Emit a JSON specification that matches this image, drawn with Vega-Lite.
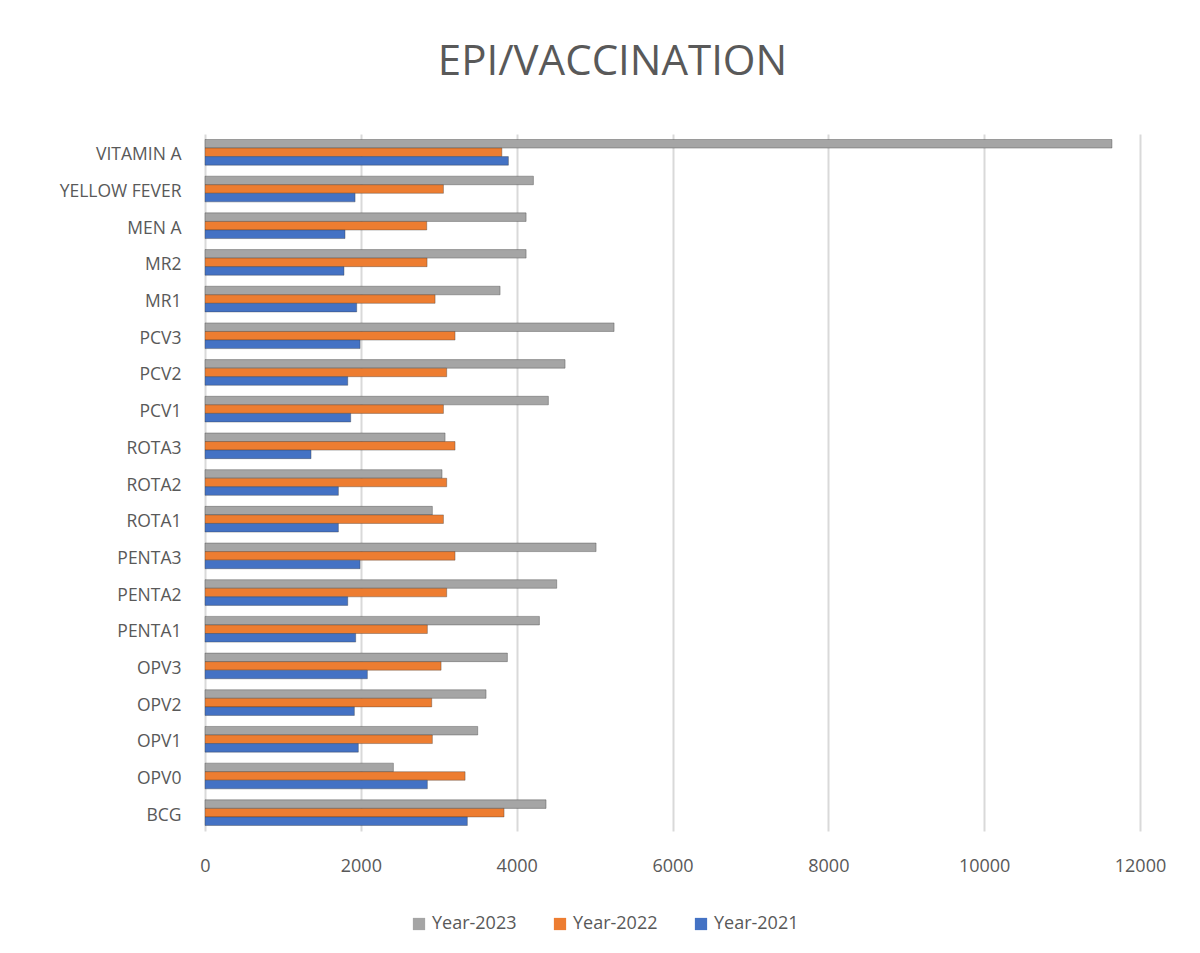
{
  "$schema": "https://vega.github.io/schema/vega-lite/v6.json",
  "width": 935,
  "height": 697,
  "autosize": "none",
  "padding": {"left": 205, "top": 134, "right": 60, "bottom": 122},
  "background": "white",
  "title": {
    "text": "EPI/VACCINATION",
    "anchor": "middle",
    "dx": -60,
    "offset": 50,
    "fontSize": 42,
    "font": "'Open Sans'",
    "fontWeight": "normal",
    "color": "#595959"
  },
  "data": {
    "values": [
      {"vaccine": "VITAMIN A", "year": "Year-2023", "value": 11640},
      {"vaccine": "VITAMIN A", "year": "Year-2022", "value": 3810},
      {"vaccine": "VITAMIN A", "year": "Year-2021", "value": 3894},
      {"vaccine": "YELLOW FEVER", "year": "Year-2023", "value": 4215},
      {"vaccine": "YELLOW FEVER", "year": "Year-2022", "value": 3060},
      {"vaccine": "YELLOW FEVER", "year": "Year-2021", "value": 1926},
      {"vaccine": "MEN A", "year": "Year-2023", "value": 4121},
      {"vaccine": "MEN A", "year": "Year-2022", "value": 2846},
      {"vaccine": "MEN A", "year": "Year-2021", "value": 1797},
      {"vaccine": "MR2", "year": "Year-2023", "value": 4121},
      {"vaccine": "MR2", "year": "Year-2022", "value": 2850},
      {"vaccine": "MR2", "year": "Year-2021", "value": 1784},
      {"vaccine": "MR1", "year": "Year-2023", "value": 3787},
      {"vaccine": "MR1", "year": "Year-2022", "value": 2953},
      {"vaccine": "MR1", "year": "Year-2021", "value": 1947},
      {"vaccine": "PCV3", "year": "Year-2023", "value": 5250},
      {"vaccine": "PCV3", "year": "Year-2022", "value": 3209},
      {"vaccine": "PCV3", "year": "Year-2021", "value": 1990},
      {"vaccine": "PCV2", "year": "Year-2023", "value": 4621},
      {"vaccine": "PCV2", "year": "Year-2022", "value": 3102},
      {"vaccine": "PCV2", "year": "Year-2021", "value": 1832},
      {"vaccine": "PCV1", "year": "Year-2023", "value": 4407},
      {"vaccine": "PCV1", "year": "Year-2022", "value": 3060},
      {"vaccine": "PCV1", "year": "Year-2021", "value": 1870},
      {"vaccine": "ROTA3", "year": "Year-2023", "value": 3081},
      {"vaccine": "ROTA3", "year": "Year-2022", "value": 3209},
      {"vaccine": "ROTA3", "year": "Year-2021", "value": 1361},
      {"vaccine": "ROTA2", "year": "Year-2023", "value": 3042},
      {"vaccine": "ROTA2", "year": "Year-2022", "value": 3102},
      {"vaccine": "ROTA2", "year": "Year-2021", "value": 1712},
      {"vaccine": "ROTA1", "year": "Year-2023", "value": 2918},
      {"vaccine": "ROTA1", "year": "Year-2022", "value": 3060},
      {"vaccine": "ROTA1", "year": "Year-2021", "value": 1712},
      {"vaccine": "PENTA3", "year": "Year-2023", "value": 5019},
      {"vaccine": "PENTA3", "year": "Year-2022", "value": 3209},
      {"vaccine": "PENTA3", "year": "Year-2021", "value": 1990},
      {"vaccine": "PENTA2", "year": "Year-2023", "value": 4514},
      {"vaccine": "PENTA2", "year": "Year-2022", "value": 3102},
      {"vaccine": "PENTA2", "year": "Year-2021", "value": 1832},
      {"vaccine": "PENTA1", "year": "Year-2023", "value": 4292},
      {"vaccine": "PENTA1", "year": "Year-2022", "value": 2854},
      {"vaccine": "PENTA1", "year": "Year-2021", "value": 1934},
      {"vaccine": "OPV3", "year": "Year-2023", "value": 3881},
      {"vaccine": "OPV3", "year": "Year-2022", "value": 3030},
      {"vaccine": "OPV3", "year": "Year-2021", "value": 2084},
      {"vaccine": "OPV2", "year": "Year-2023", "value": 3607},
      {"vaccine": "OPV2", "year": "Year-2022", "value": 2910},
      {"vaccine": "OPV2", "year": "Year-2021", "value": 1917},
      {"vaccine": "OPV1", "year": "Year-2023", "value": 3500},
      {"vaccine": "OPV1", "year": "Year-2022", "value": 2918},
      {"vaccine": "OPV1", "year": "Year-2021", "value": 1968},
      {"vaccine": "OPV0", "year": "Year-2023", "value": 2418},
      {"vaccine": "OPV0", "year": "Year-2022", "value": 3338},
      {"vaccine": "OPV0", "year": "Year-2021", "value": 2854},
      {"vaccine": "BCG", "year": "Year-2023", "value": 4377},
      {"vaccine": "BCG", "year": "Year-2022", "value": 3838},
      {"vaccine": "BCG", "year": "Year-2021", "value": 3367}
    ]
  },
  "mark": {"type": "bar", "strokeWidth": 1, "strokeOpacity": 0.35, "stroke": "#333333"},
  "encoding": {
    "y": {
      "field": "vaccine",
      "type": "nominal",
      "sort": ["VITAMIN A", "YELLOW FEVER", "MEN A", "MR2", "MR1", "PCV3", "PCV2", "PCV1", "ROTA3", "ROTA2", "ROTA1", "PENTA3", "PENTA2", "PENTA1", "OPV3", "OPV2", "OPV1", "OPV0", "BCG"],
      "scale": {"paddingInner": 0.3, "paddingOuter": 0.15},
      "axis": {
        "title": null,
        "domain": false,
        "ticks": false,
        "labelPadding": 24,
        "labelOffset": 3,
        "labelFontSize": 17.5,
        "labelFont": "'Open Sans'",
        "labelColor": "#595959"
      }
    },
    "yOffset": {
      "field": "year",
      "type": "nominal",
      "sort": ["Year-2023", "Year-2022", "Year-2021"],
      "scale": {"paddingInner": 0}
    },
    "x": {
      "field": "value",
      "type": "quantitative",
      "scale": {"domain": [0, 12000], "nice": false},
      "axis": {
        "title": null,
        "values": [0, 2000, 4000, 6000, 8000, 10000, 12000],
        "format": "d",
        "domain": false,
        "ticks": false,
        "grid": true,
        "gridColor": "#D9D9D9",
        "gridWidth": 2,
        "labelPadding": 26,
        "labelFontSize": 18,
        "labelFont": "'Open Sans'",
        "labelColor": "#595959",
        "labelFlush": false
      }
    },
    "color": {
      "field": "year",
      "type": "nominal",
      "sort": ["Year-2023", "Year-2022", "Year-2021"],
      "scale": {"domain": ["Year-2023", "Year-2022", "Year-2021"], "range": ["#A5A5A5", "#ED7D31", "#4472C4"]},
      "legend": {
        "title": null,
        "orient": "none",
        "direction": "horizontal",
        "legendX": 205,
        "legendY": 781,
        "symbolType": "square",
        "symbolSize": 150,
        "symbolStrokeWidth": 0,
        "labelFontSize": 18,
        "labelFont": "'Open Sans'",
        "labelColor": "#595959",
        "columnPadding": 34,
        "labelOffset": 4
      }
    }
  },
  "config": {
    "view": {"stroke": null}
  }
}
